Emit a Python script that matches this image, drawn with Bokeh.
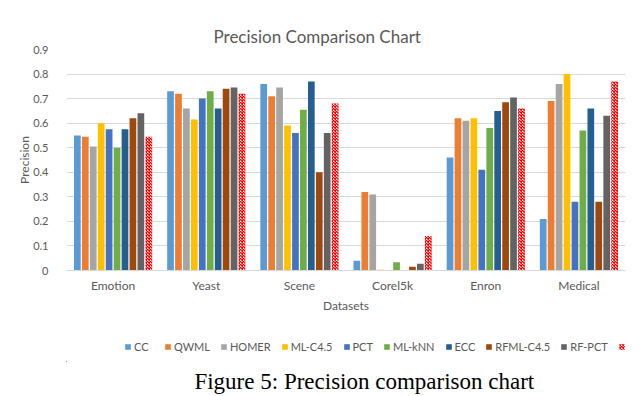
from bokeh.plotting import figure
from bokeh.models import (ColumnDataSource, FactorRange, Legend, LegendItem, Label,
                          FixedTicker)
from bokeh.layouts import column
from bokeh.transform import dodge
from bokeh.embed import file_html
from bokeh.resources import INLINE

datasets = ["Emotion", "Yeast", "Scene", "Corel5k", "Enron", "Medical"]
methods = ["CC", "QWML", "HOMER", "ML-C4.5", "PCT", "ML-kNN", "ECC", "RFML-C4.5", "RF-PCT", "ELM"]

cc       = [0.55, 0.73, 0.76, 0.04, 0.46, 0.21]
qwml     = [0.545, 0.72, 0.71, 0.32, 0.62, 0.69]
homer    = [0.505, 0.66, 0.745, 0.31, 0.61, 0.76]
mlc45    = [0.60, 0.615, 0.59, 0.003, 0.62, 0.80]
pct      = [0.575, 0.70, 0.56, 0.0, 0.41, 0.28]
mlknn    = [0.50, 0.73, 0.655, 0.034, 0.58, 0.57]
ecc      = [0.575, 0.66, 0.77, 0.0, 0.65, 0.66]
rfmlc45  = [0.62, 0.74, 0.40, 0.015, 0.685, 0.28]
rfpct    = [0.64, 0.745, 0.56, 0.027, 0.705, 0.63]
elm      = [0.545, 0.72, 0.68, 0.14, 0.66, 0.77]

series = [cc, qwml, homer, mlc45, pct, mlknn, ecc, rfmlc45, rfpct, elm]
colors = ["#5B9BD5", "#ED7D31", "#A5A5A5", "#FFC000", "#4472C4", "#70AD47",
          "#255E91", "#9E480E", "#636363", "#FF0000"]

y_ticks = [0, 0.1, 0.2, 0.3, 0.4, 0.5, 0.6, 0.7, 0.8, 0.9]
y_tick_labels = ["0", "0.1", "0.2", "0.3", "0.4", "0.5", "0.6", "0.7", "0.8", "0.9"]

title_text = "Precision Comparison Chart"
caption_text = "Figure 5: Precision comparison chart"

data = {"ds": datasets}
for m, s in zip(methods, series):
    data[m] = s
source = ColumnDataSource(data)

FONT = "Lato"
GRAY = "#595959"

# ---------------- main chart ----------------
p = figure(width=640, height=322, x_range=FactorRange(*datasets, range_padding=0),
           y_range=(0, 0.9), output_backend="svg", toolbar_location=None,
           min_border_left=66, min_border_right=15, min_border_top=49, min_border_bottom=52)
p.outline_line_color = None
p.background_fill_color = "white"
p.border_fill_color = "white"

p.title.text = title_text
p.title.text_font = FONT
p.title.text_font_size = "17px"
p.title.text_font_style = "normal"
p.title.text_color = GRAY
p.title.align = "left"
p.title.offset = 147
p.title.standoff = 6

slot = 0.0852
bw = 0.072
for i, (m, c) in enumerate(zip(methods, colors)):
    off = (i - 4.5) * slot
    if m == "ELM":
        p.vbar(x=dodge("ds", off, range=p.x_range), top=m, width=bw, source=source,
               fill_color="white", line_color=None, hatch_pattern="diagonal_cross",
               hatch_color=c, hatch_scale=3, hatch_weight=1.5)
    else:
        p.vbar(x=dodge("ds", off, range=p.x_range), top=m, width=bw, source=source,
               fill_color=c, line_color=None)

p.xaxis.axis_line_color = "#D9D9D9"
p.xaxis.major_tick_line_color = None
p.xaxis.minor_tick_line_color = None
p.xaxis.major_tick_out = 0
p.xaxis.major_tick_in = 0
p.xaxis.major_label_text_font = FONT
p.xaxis.major_label_text_font_size = "12px"
p.xaxis.major_label_text_color = GRAY
p.xaxis.major_label_standoff = 7
p.xaxis.axis_label = "Datasets"
p.xaxis.axis_label_text_font = FONT
p.xaxis.axis_label_text_font_size = "12px"
p.xaxis.axis_label_text_font_style = "normal"
p.xaxis.axis_label_text_color = GRAY
p.xaxis.axis_label_standoff = 2
p.xgrid.grid_line_color = None

p.yaxis.ticker = FixedTicker(ticks=y_ticks)
p.yaxis.major_label_overrides = {t: l for t, l in zip(y_ticks, y_tick_labels)}
p.yaxis.axis_line_color = None
p.yaxis.major_tick_line_color = None
p.yaxis.minor_tick_line_color = None
p.yaxis.major_tick_out = 0
p.yaxis.major_tick_in = 0
p.yaxis.major_label_text_font = FONT
p.yaxis.major_label_text_font_size = "11px"
p.yaxis.major_label_text_color = GRAY
p.yaxis.major_label_standoff = 18
p.yaxis.axis_label = "Precision"
p.yaxis.axis_label_text_font = FONT
p.yaxis.axis_label_text_font_size = "12px"
p.yaxis.axis_label_text_font_style = "normal"
p.yaxis.axis_label_text_color = GRAY
p.yaxis.axis_label_standoff = -2
p.ygrid.ticker = FixedTicker(ticks=y_ticks)
p.ygrid.grid_line_color = "#D9D9D9"

# ---------------- legend strip ----------------
lg = figure(width=640, height=40, x_range=(0, 640), y_range=(0, 40),
            output_backend="svg", toolbar_location=None,
            x_axis_location=None, y_axis_location=None,
            min_border=0, min_border_left=0, min_border_right=0,
            min_border_top=0, min_border_bottom=0)
lg.grid.grid_line_color = None
lg.outline_line_color = None
lg.background_fill_color = "white"
lg.border_fill_color = "white"

items = []
for m, c in zip(methods, colors):
    if m == "ELM":
        r = lg.vbar(x=[-100], top=[1], width=1, fill_color="white", line_color=None,
                    hatch_pattern="diagonal_cross", hatch_color=c, hatch_scale=3,
                    hatch_weight=1.5)
    else:
        r = lg.vbar(x=[-100], top=[1], width=1, fill_color=c, line_color=None)
    items.append(LegendItem(label=m, renderers=[r]))

legend = Legend(items=items, orientation="horizontal", location=(58, 9),
                label_text_font=FONT, label_text_font_size="11px", label_text_color=GRAY,
                glyph_width=7, glyph_height=7, label_standoff=3, spacing=10,
                border_line_color=None, background_fill_alpha=0, margin=0, padding=4,
                label_height=12)
lg.add_layout(legend)

# ---------------- caption strip ----------------
cap = figure(width=640, height=34, x_range=(0, 640), y_range=(0, 34),
             output_backend="svg", toolbar_location=None,
             x_axis_location=None, y_axis_location=None,
             min_border=0, min_border_left=0, min_border_right=0,
             min_border_top=0, min_border_bottom=0)
cap.grid.grid_line_color = None
cap.outline_line_color = None
cap.background_fill_color = "white"
cap.border_fill_color = "white"
cap.add_layout(Label(x=341, y=28, text=caption_text, text_font="Liberation Serif",
                     text_font_size="23px", text_color="black", text_align="center",
                     text_baseline="top"))

layout = column(p, lg, cap, spacing=0)
open("out.html", "w").write(file_html(layout, INLINE))
